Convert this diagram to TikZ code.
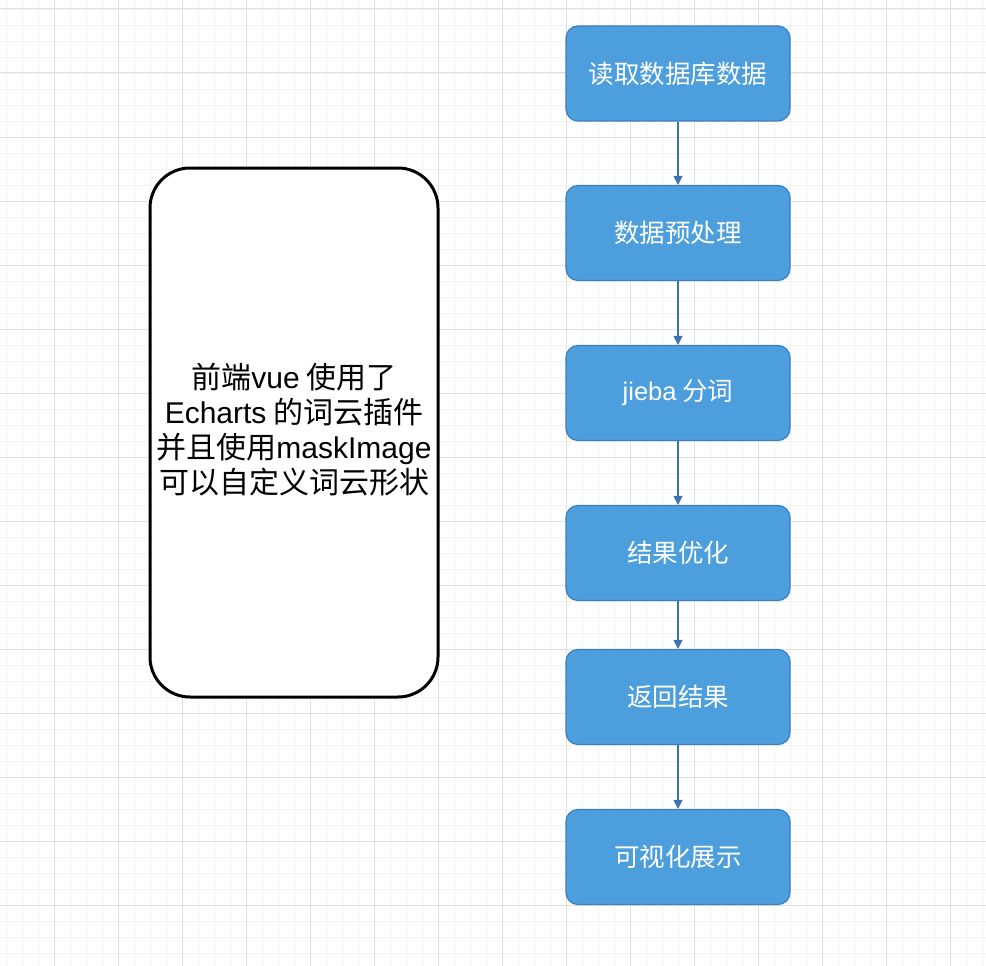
\documentclass[tikz,border=0pt]{standalone}
\usepackage{fontspec}
\setmainfont{Noto Sans CJK SC}
\newfontfamily\latn{Liberation Sans}
\usetikzlibrary{arrows.meta}
\definecolor{gminor}{HTML}{F1F1F1}
\definecolor{gmajor}{HTML}{E0E0E0}
\definecolor{boxfill}{HTML}{4C9EDD}
\definecolor{boxline}{HTML}{3F7EBE}
\definecolor{arrowc}{HTML}{3C72B2}
\tikzset{
  stepbox/.style={draw=boxline, fill=boxfill, line width=1.2pt, rounded corners=12pt,
    minimum width=224pt, minimum height=95pt, inner sep=0pt, text=white,
    font=\fontsize{25.5}{30}\selectfont},
  bigbox/.style={draw=black, line width=3pt, rounded corners=40pt, fill=white,
    minimum width=288pt, minimum height=529pt, inner sep=0pt},
  flow/.style={draw=arrowc, line width=1.3pt, -{Triangle[length=9pt,width=9pt]}},
  minorline/.style={draw=gminor, line width=0.8pt},
  majorline/.style={draw=gmajor, line width=1pt}
}
\begin{document}
\begin{tikzpicture}[x=1pt,y=-1pt]
\fill[white] (0,0) rectangle (986,966);
\useasboundingbox (0,0) rectangle (986,966);
% grid
\foreach \k in {0,...,61} { \draw[minorline] (6+16*\k,0) -- (6+16*\k,966); }
\foreach \k in {0,...,60} { \draw[minorline] (0,9+16*\k) -- (986,9+16*\k); }
\foreach \k in {0,...,14} { \draw[majorline] (54+64*\k,0) -- (54+64*\k,966); }
\foreach \k in {0,...,14} { \draw[majorline] (0,9+64*\k) -- (986,9+64*\k); }
% left box
\node[bigbox] (fe) at (294,432.5) {};
\node[align=center, font=\fontsize{30}{35}\selectfont] (fetext) at (294,430)
  {前端{\latn vue} 使用了\\{\latn Echarts} 的词云插件\\并且使用{\latn maskImage}\\可以自定义词云形状};
% flow boxes
\node[stepbox] (s1) at (678,73.5) {读取数据库数据};
\node[stepbox] (s2) at (678,233) {数据预处理};
\node[stepbox] (s3) at (678,393) {{\latn jieba} 分词};
\node[stepbox] (s4) at (678,553) {结果优化};
\node[stepbox] (s5) at (678,697) {返回结果};
\node[stepbox] (s6) at (678,857) {可视化展示};
\draw[flow] (s1) -- (s2);
\draw[flow] (s2) -- (s3);
\draw[flow] (s3) -- (s4);
\draw[flow] (s4) -- (s5);
\draw[flow] (s5) -- (s6);
\end{tikzpicture}
\end{document}
